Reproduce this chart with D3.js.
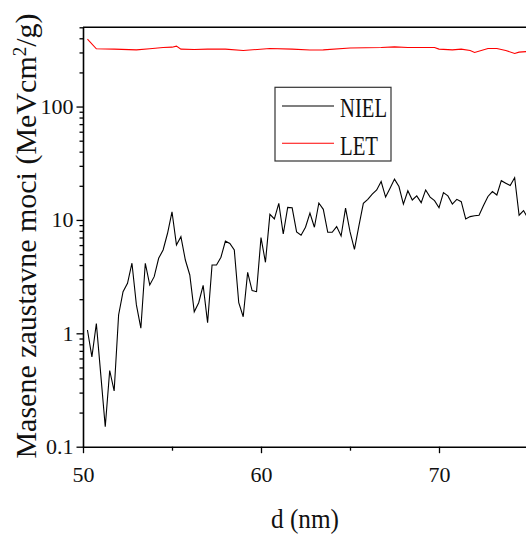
<!DOCTYPE html>
<html>
<head>
<meta charset="utf-8">
<script src="https://cdn.jsdelivr.net/npm/d3@7"></script>
<style>
html,body{margin:0;padding:0;background:#fff;}
svg text{font-family:'Liberation Serif','DejaVu Serif','Times New Roman',serif !important;}
</style>
</head>
<body>
<svg id="chart" width="526" height="538"></svg>
<script>
// ---- data ----
const nielX = [50.25,50.5,50.75,51,51.25,51.5,51.75,52,52.25,52.5,52.75,53,53.25,53.5,53.75,54,54.25,54.5,54.75,55,
  55.25,55.5,55.75,56,56.25,56.5,56.75,57,57.25,57.5,57.75,58,58.25,58.5,58.75,59,59.25,59.5,59.75,60,
  60.25,60.5,60.75,61,61.25,61.5,61.75,62,62.25,62.5,62.75,63,63.25,63.5,63.75,64,64.25,64.5,64.75,65,
  65.25,65.5,65.75,66,66.25,66.5,66.75,67,67.25,67.5,67.75,68,68.25,68.5,68.75,69,69.25,69.5,69.75,70,
  70.25,70.5,70.75,71,71.25,71.5,71.75,72,72.25,72.5,72.75,73,73.25,73.5,73.75,74,74.25,74.5,74.75,75];
const nielY = [1.07,0.62,1.22,0.43,0.15,0.47,0.31,1.45,2.33,2.76,4.15,1.78,1.11,4.15,2.67,3.16,4.59,5.43,7.63,11.8,
  6.02,7.12,4.43,3.27,1.55,1.86,2.65,1.24,4.01,4.01,4.69,6.5,6.2,5.43,1.86,1.40,3.45,2.38,2.33,6.98,
  4.23,11.2,10.2,14.0,7.52,12.9,12.8,7.84,7.33,8.62,11.5,8.62,14.1,12.4,7.78,7.78,8.73,7.22,12.7,7.88,
  5.51,8.85,14.0,15.2,16.9,18.4,21.8,15.9,19.0,22.9,19.7,13.8,18.1,15.0,16.3,14.2,18.4,15.9,14.8,12.8,
  17.4,16.3,13.8,15.2,14.5,10.2,10.7,10.9,11.0,13.4,16.1,17.8,16.6,22.2,21.1,20.1,23.6,11.0,12.1,10.3];
const letX = [50.25,50.75,51.75,53,53.75,54.5,55,55.25,55.5,56.25,57,58,59,60.5,61.75,62.75,63.5,65,66.75,67.5,
  68.25,69.75,70,70.75,71.25,71.75,72,72.75,73.25,73.75,74.25,74.5,75];
const letY = [393,323,321,316,323,332,334,341,321,319,321,321,312,325,321,315,316,328,332,336,
  332,332,321,316,321,312,300,325,325,312,294,302,306];
const xMajorTicks = [50,60,70];
const xMinorTicks = [55,65,75];
const yMajorTicks = [0.1,1,10,100];
const yMinorTicks = [0.2,0.3,0.4,0.5,0.6,0.7,0.8,0.9,2,3,4,5,6,7,8,9,20,30,40,50,60,70,80,90,200,300,400,500];
const seriesNames = ["NIEL","LET"];
const xTitle = "d (nm)";
const yTitle = "Masene zaustavne moci (MeVcm";
// ---------------

const svg = d3.select("#chart");
const L = 83, R = 528, T = 27.3, B = 446.7;
const x = d3.scaleLinear().domain([50,75]).range([L,R]);
const y = d3.scaleLog().domain([0.1,500]).range([B,T]);

svg.append("defs").append("clipPath").attr("id","clip")
  .append("rect").attr("x",L).attr("y",T).attr("width",R-L).attr("height",B-T);

const line = d3.line().x(d=>x(d[0])).y(d=>y(d[1]));
const plot = svg.append("g").attr("clip-path","url(#clip)");
plot.append("path").datum(letX.map((v,i)=>[v,letY[i]]))
  .attr("d",line).attr("fill","none").attr("stroke","#ff0000").attr("stroke-width",1.1);
plot.append("path").datum(nielX.map((v,i)=>[v,nielY[i]]))
  .attr("d",line).attr("fill","none").attr("stroke","#000").attr("stroke-width",1.1);

// frame
svg.append("line").attr("x1",L).attr("x2",R).attr("y1",T).attr("y2",T).attr("stroke","#000").attr("stroke-width",1.6);
svg.append("line").attr("x1",R).attr("x2",R).attr("y1",T).attr("y2",B).attr("stroke","#000").attr("stroke-width",1.6);

// axes
const fmt = d => d < 1 ? d3.format(".1f")(d) : d3.format("d")(d);
svg.append("g").attr("transform",`translate(${L},0)`)
  .call(d3.axisLeft(y).tickValues(yMajorTicks).tickFormat(fmt).tickSize(6.5).tickSizeOuter(0).tickPadding(3));
svg.append("g").attr("transform",`translate(${L},0)`)
  .call(d3.axisLeft(y).tickValues(yMinorTicks).tickFormat("").tickSize(3.5).tickSizeOuter(0))
  .select(".domain").remove();
svg.append("g").attr("transform",`translate(0,${B})`)
  .call(d3.axisBottom(x).tickValues(xMajorTicks).tickFormat(d3.format("d")).tickSize(6.5).tickSizeOuter(0).tickPadding(13));
svg.append("g").attr("transform",`translate(0,${B})`)
  .call(d3.axisBottom(x).tickValues(xMinorTicks).tickFormat("").tickSize(4).tickSizeOuter(0))
  .select(".domain").remove();

svg.selectAll("g").attr("font-family",null);
svg.selectAll(".domain").attr("stroke","#000").attr("stroke-width",1.6);
svg.selectAll(".tick line").attr("stroke","#000").attr("stroke-width",1.3);
svg.selectAll(".tick text").attr("font-size",22).attr("fill","#111");

// titles
svg.append("text").attr("x",305).attr("y",528).attr("text-anchor","middle")
  .attr("font-size",27).attr("fill","#111").attr("textLength",68).attr("lengthAdjust","spacingAndGlyphs")
  .text(xTitle);
const yt = svg.append("text").attr("transform","translate(36,236) rotate(-90)").attr("text-anchor","middle")
  .attr("font-size",30).attr("fill","#111");
yt.append("tspan").text(yTitle);
yt.append("tspan").attr("dy",-10).attr("font-size",19).text("2");
yt.append("tspan").attr("dy",10).text("/g)");

// legend
const lg = svg.append("g");
lg.append("rect").attr("x",275).attr("y",87.3).attr("width",116).attr("height",73.7)
  .attr("fill","#fff").attr("stroke","#333").attr("stroke-width",1.2);
const legColors = ["#000","#ff0000"];
const legY = [106,143.3];
const legW = [47,38];
seriesNames.forEach((n,i)=>{
  lg.append("line").attr("x1",282).attr("x2",334).attr("y1",legY[i]).attr("y2",legY[i])
    .attr("stroke",legColors[i]).attr("stroke-width",1.1);
  lg.append("text").attr("x",340).attr("y",legY[i]+11.3).attr("font-size",27).attr("fill","#111")
    .attr("textLength",legW[i]).attr("lengthAdjust","spacingAndGlyphs").text(n);
});
</script>
</body>
</html>
